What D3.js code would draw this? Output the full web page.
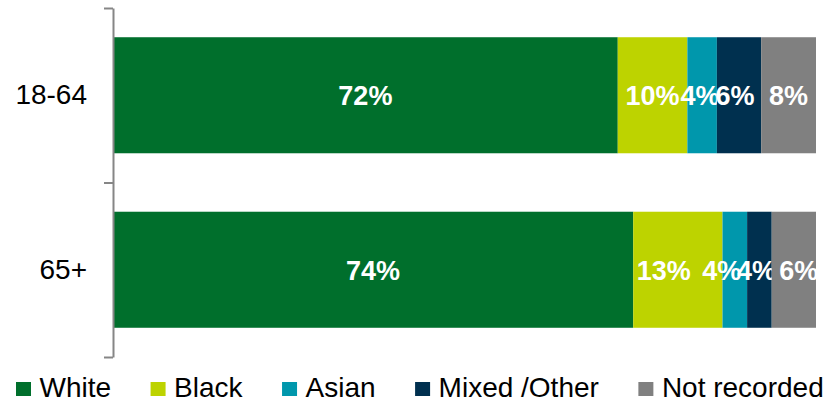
<!DOCTYPE html>
<html>
<head>
<meta charset="utf-8">
<script src="https://cdn.jsdelivr.net/npm/d3@7"></script>
<style>
  body { margin: 0; background: #fff; }
  svg text { font-family: "Liberation Sans", Arial, sans-serif; }
</style>
</head>
<body>
<div id="container"></div>
<script>
/* CONSTANTS AND GLOBALS */
const width = 827;
const height = 403;

// data (percent of each age group)
const ageGroups = ["18-64", "65+"];
const ethnicities = ["White", "Black", "Asian", "Mixed /Other", "Not recorded"];
const white = [71.8, 74.0];
const black = [9.9, 12.7];
const asian = [4.2, 3.5];
const mixed = [6.3, 3.5];
const notRecorded = [7.8, 6.3];

const colors = ["#006F2C", "#BDD300", "#0097AC", "#00304F", "#808080"];

// small horizontal nudges of the segment labels, as in the original layout
const labelNudge = {
  "18-64": [0, 0, -2, -4, 0],
  "65+": [0, -14, -13, -3, 5]
};

const series = [white, black, asian, mixed, notRecorded];
const rows = ageGroups.map((g, i) => {
  const row = { group: g };
  ethnicities.forEach((e, j) => row[e] = series[j][i]);
  return row;
});

/* SCALES */
const xScale = d3.scaleLinear()
  .domain([0, 100])
  .range([113, 816]);

const yScale = d3.scaleBand()
  .domain(ageGroups)
  .range([8, 357])
  .paddingInner(0.335)
  .paddingOuter(0.1675);

// boundaries between categories, for the axis ticks
const yEdges = d3.scaleLinear()
  .domain([0, ageGroups.length])
  .range([8, 357]);

const stacked = d3.stack().keys(ethnicities)(rows);

/* HTML ELEMENTS */
const svg = d3.select("#container")
  .append("svg")
  .attr("width", width)
  .attr("height", height);

// bars
const layers = svg.selectAll("g.layer")
  .data(stacked)
  .join("g")
  .attr("class", "layer")
  .attr("fill", (d, i) => colors[i]);

layers.selectAll("rect")
  .data(d => d)
  .join("rect")
  .attr("x", d => xScale(d[0]))
  .attr("width", d => xScale(d[1]) - xScale(d[0]))
  .attr("y", d => yScale(d.data.group))
  .attr("height", yScale.bandwidth());

// labels inside the segments
layers.each(function(layer, i) {
  d3.select(this).selectAll("text")
    .data(layer)
    .join("text")
    .attr("x", d => (xScale(d[0]) + xScale(d[1])) / 2 + labelNudge[d.data.group][i])
    .attr("y", d => yScale(d.data.group) + yScale.bandwidth() / 2 + 10)
    .attr("text-anchor", "middle")
    .attr("fill", "#fff")
    .attr("font-weight", "bold")
    .attr("font-size", 27)
    .text(d => Math.round(d[1] - d[0]) + "%");
});

// y axis
const yAxis = d3.axisLeft(yEdges)
  .tickValues(d3.range(ageGroups.length + 1))
  .tickFormat("")
  .tickSizeInner(9)
  .tickSizeOuter(0);

const axisG = svg.append("g")
  .attr("transform", "translate(113, 0)")
  .call(yAxis);
axisG.selectAll("path, line")
  .attr("stroke", "#868686")
  .attr("stroke-width", 2);

svg.selectAll("text.cat")
  .data(ageGroups)
  .join("text")
  .attr("class", "cat")
  .attr("x", 87)
  .attr("y", d => yScale(d) + yScale.bandwidth() / 2 + 9)
  .attr("text-anchor", "end")
  .attr("font-size", 28)
  .attr("fill", "#000")
  .text(d => d);

// legend
const legend = svg.append("g");
let lx = 16;
ethnicities.forEach((e, i) => {
  legend.append("rect")
    .attr("x", lx)
    .attr("y", 382)
    .attr("width", 15)
    .attr("height", 14)
    .attr("fill", colors[i]);
  const t = legend.append("text")
    .attr("x", lx + 23.5)
    .attr("y", 397)
    .attr("font-size", 28)
    .attr("fill", "#000")
    .text(e);
  lx = lx + 23.5 + t.node().getComputedTextLength() + 39.5;
});
</script>
</body>
</html>
